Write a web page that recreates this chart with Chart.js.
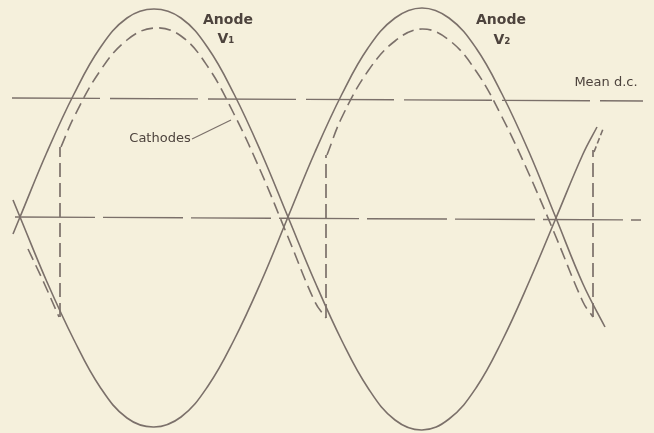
<!DOCTYPE html>
<html lang="en">
<head>
    <meta charset="UTF-8">
    <title>Anode and cathode waveforms</title>
    <script src="https://cdn.jsdelivr.net/npm/chart.js"></script>
    <style>
        body { margin: 0; background: #f5f0dc; }
        #wrap { width: 654px; height: 433px; }
    </style>
</head>
<body>
    <div id="wrap"><canvas id="wave" width="654" height="433"></canvas></div>
    <script>
        // values: x in px from left, y in px above the zero line
        const anode1X = [13, 20, 47, 74, 100, 127, 154, 181, 208, 234, 261, 288, 315, 342, 368, 395, 422, 449, 476, 502, 529, 556, 583, 597];
        const anode1Y = [-17, 0, 65, 123, 169, 199, 208, 199, 169, 123, 65, 0, -65, -124, -171, -203, -213, -202, -171, -124, -65, -1, 63, 90];

        const anode2X = [13, 20, 47, 74, 100, 127, 154, 181, 208, 234, 261, 288, 315, 342, 368, 395, 422, 449, 476, 502, 529, 556, 583, 605];
        const anode2Y = [17, 0, -65, -123, -170, -201, -210, -200, -169, -123, -65, 0, 65, 123, 169, 199, 209, 199, 169, 123, 65, -1, -67, -110];

        // cathode trace, one list per run between the jumps
        const cath1X = [28, 44, 59];
        const cath1Y = [-32, -66, -100];
        const cath2X = [61, 74, 100, 127, 154, 181, 208, 234, 261, 288, 315, 326];
        const cath2Y = [70, 100, 146, 177, 189, 181, 150, 103, 45, -20, -85, -101];
        const cath3X = [327, 342, 368, 395, 422, 449, 476, 502, 529, 556, 583, 593];
        const cath3Y = [62, 100, 146, 176, 188, 177, 146, 100, 43, -20, -85, -100];
        const cath4X = [594, 603];
        const cath4Y = [65, 88];

        // vertical jumps of the cathode trace
        const jumpX = [60, 326, 593];
        const jumpLow = [-100, -101, -100];
        const jumpHigh = [70, 62, 67];

        // zero line and mean d.c. level
        const zeroX = [15, 641];
        const zeroY = [0, -3];
        const meanX = [12, 643];
        const meanY = [119, 116];

        const labels = [
            { text: 'Anode', x: 228, y: 197, big: true },
            { text: 'V₁', x: 226, y: 178, big: true },
            { text: 'Anode', x: 501, y: 197, big: true },
            { text: 'V₂', x: 502, y: 177, big: true },
            { text: 'Mean d.c.', x: 606, y: 134 },
            { text: 'Cathodes', x: 160, y: 78 }
        ];
        // leader from the Cathodes label to the dashed trace
        const leaderX = [192, 231];
        const leaderY = [78, 97];

        const ink = '#7b706a';
        const pts = (xs, ys) => xs.map((x, i) => ({ x: x, y: ys[i] }));

        function curve(xs, ys, dash) {
            return {
                data: pts(xs, ys),
                showLine: true,
                borderColor: ink,
                borderWidth: 1.6,
                borderDash: dash || [],
                pointRadius: 0,
                tension: 0.4,
                fill: false
            };
        }

        function straight(xs, ys, dash, w) {
            return {
                data: pts(xs, ys),
                showLine: true,
                borderColor: ink,
                borderWidth: w || 1.5,
                borderDash: dash,
                pointRadius: 0,
                tension: 0,
                fill: false
            };
        }

        const datasets = [
            curve(anode1X, anode1Y),
            curve(anode2X, anode2Y),
            curve(cath1X, cath1Y, [12, 6]),
            curve(cath2X, cath2Y, [12, 6]),
            curve(cath3X, cath3Y, [12, 6]),
            curve(cath4X, cath4Y, [6, 3]),
            straight(zeroX, zeroY, [80, 8], 1.4),
            straight(meanX, meanY, [88, 10], 1.4),
            straight(leaderX, leaderY, [], 1.2)
        ];
        jumpX.forEach((x, i) => {
            datasets.push(straight([x, x], [jumpLow[i], jumpHigh[i]], [14, 6], 1.7));
        });

        const textPlugin = {
            id: 'texts',
            afterDatasetsDraw(chart) {
                const ctx = chart.ctx;
                const sx = chart.scales.x, sy = chart.scales.y;
                ctx.save();
                ctx.fillStyle = '#4d433d';
                ctx.textAlign = 'center';
                ctx.textBaseline = 'middle';
                labels.forEach(l => {
                    ctx.font = l.big ? '600 14px "DejaVu Sans", sans-serif' : '500 13px "DejaVu Sans", sans-serif';
                    ctx.fillText(l.text, sx.getPixelForValue(l.x), sy.getPixelForValue(l.y));
                });
                ctx.restore();
            }
        };

        new Chart(document.getElementById('wave'), {
            type: 'scatter',
            data: { datasets: datasets },
            options: {
                responsive: false,
                animation: false,
                devicePixelRatio: 1,
                layout: { padding: 0 },
                plugins: { legend: { display: false }, tooltip: { enabled: false } },
                scales: {
                    x: { type: 'linear', min: 0, max: 654, display: false },
                    y: { type: 'linear', min: -216, max: 217, display: false }
                }
            },
            plugins: [textPlugin]
        });
    </script>
</body>
</html>
